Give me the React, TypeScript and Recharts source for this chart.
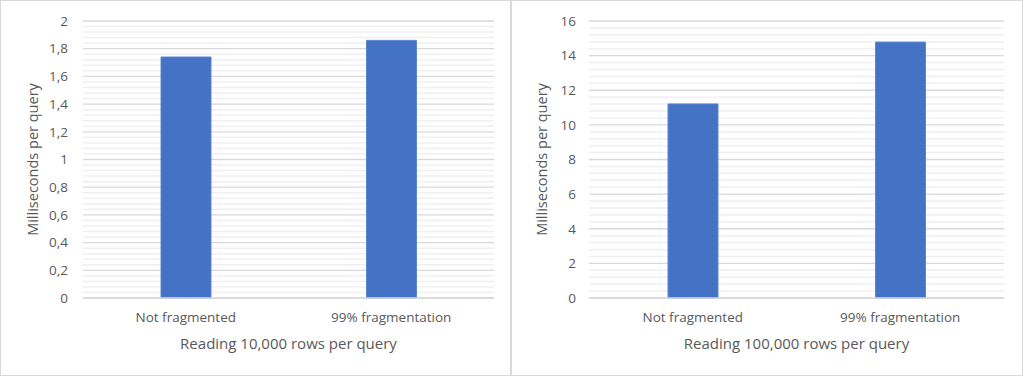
import React from 'react';
import { BarChart, Bar, XAxis, YAxis, CartesianGrid, ReferenceLine } from 'recharts';

const categories = ['Not fragmented', '99% fragmentation'];
const msPer10k = [1.74, 1.86];
const msPer100k = [11.21, 14.78];
const ticks10k = [0, 0.2, 0.4, 0.6, 0.8, 1, 1.2, 1.4, 1.6, 1.8, 2];
const ticks100k = [0, 2, 4, 6, 8, 10, 12, 14, 16];

const FONT = '"Open Sans", sans-serif';
const TEXT = '#595959';

const toComma = (v: number) => String(v).replace('.', ',');

// minor gridlines: 5 steps between every pair of major ticks
const minorOf = (major: number[]) => {
  const out: number[] = [];
  for (let i = 0; i < major.length - 1; i++) {
    const step = (major[i + 1] - major[i]) / 5;
    for (let k = 1; k < 5; k++) out.push(major[i] + step * k);
  }
  return out;
};

type PanelProps = {
  values: number[];
  ticks: number[];
  xTitle: string;
  width: number;
  yWidth: number;
  tickGap: number;
  right: number;
  labelOffset: number;
};

const Panel = ({ values, ticks, xTitle, width, yWidth, tickGap, right, labelOffset }: PanelProps) => {
  const data = categories.map((name, i) => ({ name, value: values[i] }));
  const minor = minorOf(ticks);
  const domain = [ticks[0], ticks[ticks.length - 1]];
  return (
    <div style={{ boxSizing: 'border-box', width: width + 2, height: 376, border: '1px solid #d9d9d9', background: '#fff' }}>
      <BarChart width={width} height={374} data={data} margin={{ top: 20, right, bottom: 0, left: 0 }}>
        <CartesianGrid vertical={false} stroke="#d9d9d9" strokeWidth={1.3} />
        {minor.map((v) => (
          <ReferenceLine key={v} y={v} stroke="#f0f0f0" strokeWidth={1.5} zIndex={-50} />
        ))}
        <XAxis
          dataKey="name"
          height={77}
          tickLine={false}
          tickSize={0}
          tickMargin={14}
          axisLine={{ stroke: '#d9d9d9', strokeWidth: 1.3 }}
          tick={{ fill: TEXT, fontSize: 13.5, fontFamily: FONT }}
          label={{ value: xTitle, position: 'insideBottom', offset: 26, fill: TEXT, fontSize: 15, fontFamily: FONT }}
        />
        <YAxis
          width={yWidth}
          domain={domain}
          ticks={ticks}
          interval={0}
          axisLine={false}
          tickLine={false}
          tickSize={0}
          tickMargin={tickGap}
          tickFormatter={toComma}
          tick={{ fill: TEXT, fontSize: 13.5, fontFamily: FONT }}
          label={{
            value: 'Milliseconds per query',
            angle: -90,
            position: 'insideLeft',
            offset: labelOffset,
            fill: TEXT,
            fontSize: 14.5,
            fontFamily: FONT,
            style: { textAnchor: 'middle' },
          }}
        />
        <Bar dataKey="value" fill="#4472c4" stroke="#5a86d3" strokeWidth={1} barSize={50} isAnimationActive={false} />
      </BarChart>
    </div>
  );
};

export default function App() {
  return (
    <div style={{ position: 'absolute', left: 0, top: 0, width: 1024, height: 377, background: '#fff', display: 'flex' }}>
      <Panel
        values={msPer10k}
        ticks={ticks10k}
        xTitle="Reading 10,000 rows per query"
        width={509}
        yWidth={82}
        tickGap={15}
        right={16}
        labelOffset={32}
      />
      <Panel
        values={msPer100k}
        ticks={ticks100k}
        xTitle="Reading 100,000 rows per query"
        width={510}
        yWidth={77}
        tickGap={13}
        right={18}
        labelOffset={30}
      />
    </div>
  );
}
